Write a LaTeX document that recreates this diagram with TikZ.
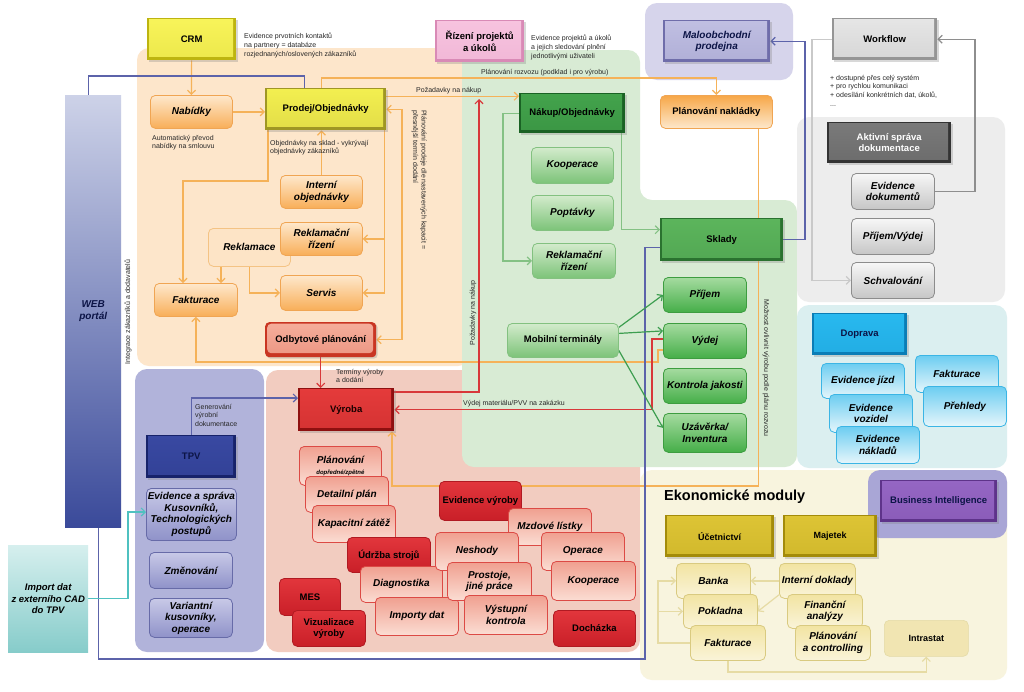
\documentclass[tikz,border=0pt]{standalone}
\usepackage{fontspec}
\setmainfont{Liberation Sans}
\usetikzlibrary{arrows.meta,shadows}
% backgrounds
\definecolor{orbg}{HTML}{FDE6CB}
\definecolor{grbg}{HTML}{D8EBD4}
\definecolor{sabg}{HTML}{F2CCC0}
\definecolor{tpvbg}{HTML}{B1B3DA}
\definecolor{lavbg}{HTML}{D6D4EB}
\definecolor{gybg}{HTML}{EDEDED}
\definecolor{cybg}{HTML}{DBEFF0}
\definecolor{crbg}{HTML}{F8F4DE}
\definecolor{bibg}{HTML}{A9A6D6}
\definecolor{webT}{HTML}{CDD2E8}
\definecolor{webB}{HTML}{3A4A9A}
\definecolor{impT}{HTML}{D6EFEE}
\definecolor{impB}{HTML}{86CCCA}
% modules
\definecolor{orT}{HTML}{FEE8CC}\definecolor{orB}{HTML}{F8AE58}\definecolor{orD}{HTML}{F0A553}
\definecolor{grT}{HTML}{D3EBCC}\definecolor{grB}{HTML}{7CC378}\definecolor{grD}{HTML}{83C180}
\definecolor{gsT}{HTML}{A5DBA0}\definecolor{gsB}{HTML}{45AE48}\definecolor{gsD}{HTML}{3D9D40}
\definecolor{gyT}{HTML}{F7F7F7}\definecolor{gyB}{HTML}{C6C6C6}\definecolor{gyD}{HTML}{8C8C8C}
\definecolor{cyT}{HTML}{6CCDF1}\definecolor{cyB}{HTML}{E6F6FB}\definecolor{cyD}{HTML}{3BB5E5}
\definecolor{saT}{HTML}{F0A090}\definecolor{saB}{HTML}{FBDDD3}\definecolor{saD}{HTML}{DC4A45}
\definecolor{rdT}{HTML}{E2363C}\definecolor{rdB}{HTML}{C91F28}\definecolor{rdD}{HTML}{B01A22}
\definecolor{tvT}{HTML}{C8C9E7}\definecolor{tvB}{HTML}{8F92C9}\definecolor{tvD}{HTML}{676BA8}
\definecolor{ecT}{HTML}{F2E4A2}\definecolor{ecB}{HTML}{FAF4D9}\definecolor{ecD}{HTML}{D9CA80}
\definecolor{reF}{HTML}{FDE4C6}\definecolor{reD}{HTML}{F4C384}
\definecolor{inF}{HTML}{F1E5B2}
% bevel boxes
\definecolor{crmT}{HTML}{F8F45A}\definecolor{crmB}{HTML}{BDB410}
\definecolor{prT}{HTML}{F3EF50}\definecolor{prB}{HTML}{9F9624}
\definecolor{pkT}{HTML}{F7C3DF}\definecolor{pkB}{HTML}{D98AB6}
\definecolor{maT}{HTML}{C0BFE2}\definecolor{maB}{HTML}{6F6DAA}
\definecolor{wfT}{HTML}{E6E6E6}\definecolor{wfB}{HTML}{959595}
\definecolor{akT}{HTML}{7A7A7A}\definecolor{akB}{HTML}{333333}
\definecolor{nkT}{HTML}{43A34C}\definecolor{nkB}{HTML}{1A6224}
\definecolor{skT}{HTML}{5CB55C}\definecolor{skB}{HTML}{2A722F}
\definecolor{dpT}{HTML}{28B9EF}\definecolor{dpB}{HTML}{0A7DB6}
\definecolor{vyT}{HTML}{E53B3B}\definecolor{vyB}{HTML}{8E1010}
\definecolor{odT}{HTML}{F5AE9B}\definecolor{odB}{HTML}{C93522}
\definecolor{tpT}{HTML}{3949A2}\definecolor{tpB}{HTML}{17236A}
\definecolor{biT}{HTML}{9566C4}\definecolor{biB}{HTML}{5E338A}
\definecolor{ekT}{HTML}{DDC435}\definecolor{ekB}{HTML}{A38B0A}
\definecolor{nlT}{HTML}{F7A748}\definecolor{nlB}{HTML}{FDE8CC}
\definecolor{navy}{HTML}{0C1446}
% lines
\definecolor{lor}{HTML}{F5B259}
\definecolor{lrd}{HTML}{D8383A}
\definecolor{lbl}{HTML}{5C63AA}
\definecolor{lgr}{HTML}{3D9E50}
\definecolor{llg}{HTML}{84C184}
\definecolor{ltl}{HTML}{4FC1C0}
\definecolor{lgy}{HTML}{8E8E8E}
\definecolor{llgy}{HTML}{C9C9C9}
\definecolor{lcr}{HTML}{E6DBA4}

\pgfdeclarelayer{bg}\pgfdeclarelayer{ln}\pgfsetlayers{bg,ln,main}

\newcommand\bx[7]{%
  \pgfmathsetmacro\bxw{#5-#3}\pgfmathsetmacro\bxh{#6-#4}%
  \node[#1,minimum width=\bxw pt,minimum height=\bxh pt,anchor=north west,inner sep=1pt] (#2) at (#3,#4) {#7};}

\begin{document}
\begin{tikzpicture}[x=1pt,y=-1pt,
  lab/.style={font=\fontsize{10}{11.5}\selectfont\bfseries\itshape, align=center, text=black},
  hd/.style={font=\fontsize{9.5}{11.5}\selectfont\bfseries, align=center, text=black},
  mod/.style n args={3}{rounded corners=5pt, top color=#1, bottom color=#2, draw=#3, line width=0.8pt, lab},
  bev/.style 2 args={fill=#2, draw=none, hd,
    path picture={\fill[top color=#1, bottom color=#1!80!#2]
      ([shift={(2pt,-1.5pt)}]path picture bounding box.north west) rectangle
      ([shift={(-3pt,4pt)}]path picture bounding box.south east);},
    drop shadow={shadow xshift=1.5pt, shadow yshift=-1.5pt, opacity=0.3}},
  reklst/.style={rounded corners=5pt, fill=reF, draw=reD, line width=0.8pt, lab},
  note/.style={font=\fontsize{7}{8.6}\selectfont, align=left, text=black!85, inner sep=0pt},
  ar/.style={-{Straight Barb[length=4pt,width=8pt]}, line width=1.2pt},
  pl/.style={line width=1.2pt},
  region/.style={rounded corners=12pt}
]
\useasboundingbox (0,0) rectangle (1024,691);

\begin{pgfonlayer}{bg}
\fill[white] (0,0) rectangle (1024,691);
\fill[orbg, region] (137,48) rectangle (470,366);
\fill[sabg, region] (266,370) rectangle (640,652);
\fill[tpvbg, region] (135,369) rectangle (264,652);
\fill[crbg, region] (640,470) rectangle (1007,680);
\fill[grbg, region] (462,50) -- (640,50) -- (640,200) -- (797,200) -- (797,467) -- (462,467) -- cycle;
\fill[lavbg, region] (645,3) rectangle (793,80);
\fill[gybg, region] (797,117) rectangle (1005,302);
\fill[cybg, region] (797,305) rectangle (1007,468);
\fill[bibg, region] (868,470) rectangle (1007,538);
\end{pgfonlayer}

% ---- left side
\bx{top color=webT, bottom color=webB, draw=none, lab, text=navy}{web}{65}{95}{121}{527}{WEB\\portál}
\bx{top color=impT, bottom color=impB, draw=none, lab, font=\fontsize{9.5}{11.5}\selectfont\bfseries\itshape}{imp}{8}{545}{88}{652}{Import dat\\z externího CAD\\do TPV}

% ---- sales (orange)
\bx{bev={crmT}{crmB}}{crm}{147}{18}{236}{60}{CRM}
\bx{bev={prT}{prB}}{prodej}{265}{88}{386}{130}{Prodej/Objednávky}
\bx{mod={orT}{orB}{orD}}{nab}{150}{95}{232}{128}{Nabídky}
\bx{mod={orT}{orB}{orD}}{intobj}{280}{175}{362}{208}{Interní\\objednávky}
\bx{reklst}{rekl}{208}{228}{290}{266}{Reklamace}
\bx{mod={orT}{orB}{orD}}{reklriz}{280}{222}{362}{255}{Reklamační\\řízení}
\bx{mod={orT}{orB}{orD}}{servis}{280}{275}{362}{310}{Servis}
\bx{mod={orT}{orB}{orD}}{fakt}{154}{283}{237}{316}{Fakturace}
\bx{bev={odT}{odB}, rounded corners=4pt}{odb}{265}{322}{376}{357}{Odbytové plánování}

% ---- top middle / right
\bx{bev={pkT}{pkB}}{rizeni}{435}{20}{524}{62}{Řízení projektů\\a úkolů}
\bx{bev={maT}{maB}, lab, text=navy}{malo}{663}{20}{770}{62}{Maloobchodní\\prodejna}
\bx{mod={nlT}{nlB}{orD}, hd}{nakl}{660}{95}{772}{128}{Plánování nakládky}

% ---- purchase / stores (green)
\bx{bev={nkT}{nkB}}{nakup}{519}{93}{625}{133}{Nákup/Objednávky}
\bx{mod={grT}{grB}{grD}}{koop}{531}{147}{613}{183}{Kooperace}
\bx{mod={grT}{grB}{grD}}{popt}{531}{195}{613}{230}{Poptávky}
\bx{mod={grT}{grB}{grD}}{rekg}{532}{243}{615}{278}{Reklamační\\řízení}
\bx{mod={grT}{grB}{grD}, hd}{mob}{507}{323}{618}{357}{Mobilní terminály}
\bx{bev={skT}{skB}}{sklady}{660}{218}{783}{261}{Sklady}
\bx{mod={gsT}{gsB}{gsD}}{prijem}{663}{277}{746}{312}{Příjem}
\bx{mod={gsT}{gsB}{gsD}}{vydej}{663}{323}{746}{358}{Výdej}
\bx{mod={gsT}{gsB}{gsD}}{kontrola}{663}{368}{746}{403}{Kontrola jakosti}
\bx{mod={gsT}{gsB}{gsD}}{uzav}{663}{413}{746}{452}{Uzávěrka/\\Inventura}

% ---- documents (gray)
\bx{bev={wfT}{wfB}}{wf}{832}{18}{937}{60}{Workflow}
\bx{bev={akT}{akB}, text=white}{aktiv}{827}{122}{951}{163}{Aktivní správa\\dokumentace}
\bx{mod={gyT}{gyB}{gyD}}{evdok}{851}{173}{934}{209}{Evidence\\dokumentů}
\bx{mod={gyT}{gyB}{gyD}}{prv}{851}{218}{934}{254}{Příjem/Výdej}
\bx{mod={gyT}{gyB}{gyD}}{schval}{851}{262}{934}{298}{Schvalování}

% ---- transport (cyan)
\bx{bev={dpT}{dpB}, text=navy}{doprava}{812}{313}{907}{355}{Doprava}
\bx{mod={cyT}{cyB}{cyD}}{evj}{821}{363}{904}{398}{Evidence jízd}
\bx{mod={cyT}{cyB}{cyD}}{evv}{829}{394}{912}{432}{Evidence\\vozidel}
\bx{mod={cyT}{cyB}{cyD}}{evn}{836}{426}{919}{463}{Evidence\\nákladů}
\bx{mod={cyT}{cyB}{cyD}}{faktc}{915}{355}{998}{392}{Fakturace}
\bx{mod={cyT}{cyB}{cyD}}{preh}{923}{386}{1006}{426}{Přehledy}

% ---- TPV
\bx{bev={tpT}{tpB}, text=navy}{tpv}{146}{435}{236}{478}{TPV}
\bx{mod={tvT}{tvB}{tvD}}{evsp}{146}{488}{236}{540}{Evidence a správa\\Kusovníků,\\Technologických\\postupů}
\bx{mod={tvT}{tvB}{tvD}}{zmen}{149}{552}{232}{588}{Změnování}
\bx{mod={tvT}{tvB}{tvD}}{var}{149}{598}{232}{637}{Variantní\\kusovníky,\\operace}

% ---- production (salmon)
\bx{bev={vyT}{vyB}, text=black!90!red}{vyroba}{298}{388}{394}{431}{Výroba}
\bx{mod={saT}{saB}{saD}}{plan}{299}{446}{381}{485}{Plánování\\[-1pt]{\fontsize{6}{7}\selectfont dopředné/zpětné}}
\bx{mod={saT}{saB}{saD}}{det}{305}{476}{388}{512}{Detailní plán}
\bx{mod={saT}{saB}{saD}}{kap}{312}{505}{395}{542}{Kapacitní zátěž}
\bx{mod={rdT}{rdB}{rdD}, hd}{mes}{279}{578}{340}{615}{MES}
\bx{mod={rdT}{rdB}{rdD}, hd}{viz}{292}{610}{365}{646}{Vizualizace\\výroby}
\bx{mod={rdT}{rdB}{rdD}, hd}{udrz}{347}{537}{430}{572}{Údržba strojů}
\bx{mod={saT}{saB}{saD}}{diag}{360}{566}{442}{602}{Diagnostika}
\bx{mod={saT}{saB}{saD}}{imp2}{375}{597}{458}{635}{Importy dat}
\bx{mod={rdT}{rdB}{rdD}, hd}{evvyr}{439}{481}{521}{520}{Evidence výroby}
\bx{mod={saT}{saB}{saD}}{mzd}{508}{508}{591}{545}{Mzdové lístky}
\bx{mod={saT}{saB}{saD}}{nesh}{435}{532}{518}{570}{Neshody}
\bx{mod={saT}{saB}{saD}}{oper}{541}{532}{624}{570}{Operace}
\bx{mod={saT}{saB}{saD}}{prost}{447}{562}{531}{600}{Prostoje,\\jiné práce}
\bx{mod={saT}{saB}{saD}}{koopr}{551}{561}{635}{600}{Kooperace}
\bx{mod={saT}{saB}{saD}}{vyst}{464}{595}{547}{634}{Výstupní\\kontrola}
\bx{mod={rdT}{rdB}{rdD}, hd}{doch}{553}{610}{635}{646}{Docházka}

% ---- economy
\node[anchor=west, font=\fontsize{14.5}{16}\selectfont\bfseries, inner sep=0pt] (eko) at (664,497) {Ekonomické moduly};
\bx{bev={biT}{biB}, text=navy}{bi}{880}{480}{997}{522}{Business Intelligence}
\bx{bev={ekT}{ekB}, font=\fontsize{9}{11}\selectfont\bfseries}{ucet}{665}{515}{774}{557}{Účetnictví}
\bx{bev={ekT}{ekB}, font=\fontsize{9}{11}\selectfont\bfseries}{majetek}{783}{515}{877}{557}{Majetek}
\bx{mod={ecT}{ecB}{ecD}}{banka}{676}{563}{750}{598}{Banka}
\bx{mod={ecT}{ecB}{ecD}}{pokl}{683}{594}{757}{628}{Pokladna}
\bx{mod={ecT}{ecB}{ecD}}{fakte}{690}{625}{765}{660}{Fakturace}
\bx{mod={ecT}{ecB}{ecD}}{intdok}{779}{563}{855}{598}{Interní doklady}
\bx{mod={ecT}{ecB}{ecD}}{finan}{787}{594}{862}{628}{Finanční\\analýzy}
\bx{mod={ecT}{ecB}{ecD}}{planc}{795}{625}{870}{660}{Plánování\\a controlling}
\bx{rounded corners=5pt, fill=inF, draw=ecD!70, line width=0.6pt, hd, font=\fontsize{9}{11}\selectfont\bfseries}{intra}{884}{620}{968}{656}{Intrastat}

% ---- notes
\node[note, anchor=north west] (ncrm) at (244,33) {Evidence prvotních kontaktů\\na partnery = databáze\\rozjednaných/oslovených zákazníků};
\node[note, anchor=north west] (nriz) at (531,35) {Evidence projektů a úkolů\\a jejich sledování plnění\\jednotlivými uživateli};
\node[note, anchor=north west] (nnab) at (152,135) {Automatický převod\\nabídky na smlouvu};
\node[note, anchor=north west] (nprod) at (270,140) {Objednávky na sklad - vykrývají\\objednávky zákazníků};
\node[note, anchor=north west] (nwf) at (830,75) {+ dostupné přes celý systém\\+ pro rychlou komunikaci\\+ odesílání konkrétních dat, úkolů,\\...};
\node[note, anchor=north west] (nter) at (336,369) {Termíny výroby\\a dodání};
\node[note, anchor=north west] (ngen) at (195,404) {Generování\\výrobní\\dokumentace};
\node[note, anchor=west] (nvyd) at (463,404) {Výdej materiálu/PVV na zakázku};
\node[note, anchor=west] (npoz) at (416,91) {Požadavky na nákup};
\node[note, anchor=west] (nroz) at (481,73) {Plánování rozvozu (podklad i pro výrobu)};
\node[note, rotate=90] (nint) at (128,312) {Integrace zákazníků a dodavatelů};
\node[note, rotate=90] (npoz2) at (473,313) {Požadavky na nákup};
\node[note, rotate=-90] (nmoz) at (766,368) {Možnost ovlivnit výrobu podle plánu rozvozu};
\node[note, rotate=-90, anchor=north west] (nplp) at (427,110) {Plánování prodeje dle nastavených kapacit =\\přesnější termín dodání};

% ---- connectors
\begin{pgfonlayer}{ln}
% orange
\draw[ar, lor] (crm) -- (nab);
\draw[ar, lor] (nab.east) -- (nab.east -| prodej.west);
\draw[ar, lor] (intobj.north) -- (intobj.north |- prodej.south);
\coordinate (p268) at ([xshift=3pt]prodej.south west);
\coordinate (b183) at (183,181);
\draw[ar, lor] (p268) |- (b183) -- (b183 |- fakt.north);
\coordinate (r221) at ([xshift=13pt]rekl.south west);
\draw[ar, lor] (r221) -- (r221 |- fakt.north);
\draw[ar, lor] (rekl.south) |- (servis.west);
\coordinate (p384) at ([xshift=-2pt]prodej.south east);
\draw[ar, lor] (p384) |- (reklriz.east);
\draw[ar, lor] (p384) |- (servis.east);
\coordinate (c402) at (402,0);
\draw[lor, pl, {Straight Barb[length=4pt,width=8pt]}-{Straight Barb[length=4pt,width=8pt]}] (prodej.east) -| (c402 |- odb.east) -- (odb.east);
\coordinate (q96) at ([yshift=13pt]prodej.east);
\draw[ar, lor] (q96) -- (q96 -| nakup.west);
\coordinate (y78) at (0,78);
\coordinate (r321) at ([xshift=-4pt]prodej.north);
\draw[ar, lor] (r321) |- (nakl.north |- y78) -- (nakl.north);
\coordinate (vy2) at ([yshift=-9pt]vydej.west);
\coordinate (k658) at (658,362);
\draw[ar, lor] (vy2) -| (k658) -| (fakt.south);
\coordinate (n758) at ([xshift=-14pt]nakl.south east);
\coordinate (k486) at (392,486);
\draw[ar, lor] (n758) |- (k486) -- (k486 |- vyroba.south);
% red
\draw[ar, lrd] (odb.south) -- (odb.south |- vyroba.north);
\coordinate (v392) at ([yshift=-4pt]vyroba.north east);
\coordinate (pn) at (479,99);
\draw[ar, lrd] (v392) -| (pn);
\coordinate (c652) at (652,0);
\coordinate (vy1) at ([yshift=2pt]vydej.west);
\draw[ar, lrd] (vy1) -| (c652 |- vyroba.east) -- (vyroba.east);
% blue
\draw[ar, lbl] (tpv.north) |- ([yshift=-10pt]vyroba.north west);
\coordinate (w88) at ([xshift=-5pt]web.north);
\coordinate (y76) at (0,76);
\coordinate (p304) at ([xshift=-21pt]prodej.north);
\draw[lbl, pl] (w88) |- (p304 |- y76) -- (p304);
\coordinate (w98) at ([xshift=5pt]web.south);
\coordinate (k645) at (645,659);
\draw[lbl, pl] (w98) |- (k645) |- ([yshift=-8pt]sklady.west);
\coordinate (c805) at (805,0);
\draw[ar, lbl] (sklady.east) -| (c805 |- malo.east) -- (malo.east);
% teal
\coordinate (t128) at (128,512);
\draw[ar, ltl] (imp.east) -| (t128) -- (t128 -| evsp.west);
% green
\draw[ar, lgr] ([yshift=13pt]mob.east) -- (prijem.west);
\draw[ar, lgr] ([yshift=7pt]mob.east) -- ([yshift=10pt]vydej.west);
\draw[ar, lgr] ([yshift=-10pt]mob.east) -- ([yshift=5pt]uzav.west);
\coordinate (c503) at (503,0);
\draw[ar, llg] (nakup.west) -| (c503 |- rekg.west) -- (rekg.west);
\coordinate (n622) at ([xshift=-4pt]nakup.south east);
\draw[ar, llg] (n622) |- ([yshift=10pt]sklady.west);
% gray
\coordinate (c812) at (812,0);
\draw[ar, llgy] (wf.west) -| (c812 |- schval.west) -- (schval.west);
\coordinate (c975) at (975,0);
\draw[ar, lgy] (evdok.east) -| (c975 |- wf.east) -- (wf.east);
% cream
\coordinate (c658) at (658,0);
\draw[ar, lcr] (fakte.west) -| (c658 |- banka.west) -- (banka.west);
\draw[ar, lcr] (c658 |- pokl.west) -- (pokl.west);
\draw[ar, lcr] (intdok.west) -- (banka.east);
\draw[ar, lcr] ([yshift=4pt]intdok.south west) -- (pokl.east);
\coordinate (y672) at (0,672);
\draw[ar, lcr] (fakte.south) |- (intra.south |- y672) -- (intra.south);
\end{pgfonlayer}
\end{tikzpicture}
\end{document}
